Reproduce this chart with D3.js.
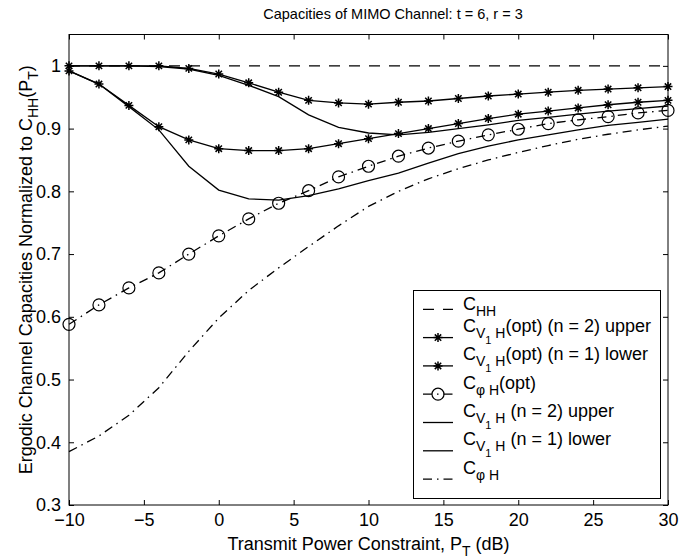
<!DOCTYPE html>
<html>
<head>
<meta charset="utf-8">
<script src="https://cdn.jsdelivr.net/npm/d3@7"></script>
<style>
    body { margin: 0; background: white; }
    text { font-family: 'Liberation Sans', Arial, Helvetica, sans-serif; fill: black; }
</style>
</head>
<body>
<div id="chart"></div>
<script>
// values, one point every 2 dB
let powerDb = [-10, -8, -6, -4, -2, 0, 2, 4, 6, 8, 10, 12, 14, 16, 18, 20, 22, 24, 26, 28, 30];
let cHH = [1, 1, 1, 1, 1, 1, 1, 1, 1, 1, 1, 1, 1, 1, 1, 1, 1, 1, 1, 1, 1];
let cV1HOptUpper = [1.000, 1.000, 1.000, 1.000, 0.996, 0.987, 0.973, 0.958, 0.945, 0.941, 0.939, 0.942, 0.944, 0.948, 0.952, 0.955, 0.958, 0.961, 0.963, 0.965, 0.967];
let cV1HOptLower = [0.992, 0.971, 0.937, 0.903, 0.882, 0.868, 0.865, 0.865, 0.868, 0.876, 0.884, 0.892, 0.900, 0.908, 0.916, 0.923, 0.928, 0.933, 0.938, 0.942, 0.945];
let cPhiHOpt = [0.588, 0.619, 0.646, 0.670, 0.700, 0.729, 0.756, 0.781, 0.801, 0.823, 0.840, 0.856, 0.869, 0.880, 0.890, 0.899, 0.908, 0.914, 0.919, 0.925, 0.929];
let cV1HUpper = [1.000, 1.000, 1.000, 0.999, 0.995, 0.985, 0.969, 0.951, 0.922, 0.902, 0.893, 0.890, 0.894, 0.900, 0.906, 0.913, 0.918, 0.923, 0.928, 0.932, 0.936];
let cV1HLower = [0.992, 0.971, 0.935, 0.898, 0.840, 0.802, 0.788, 0.786, 0.793, 0.804, 0.817, 0.829, 0.845, 0.860, 0.872, 0.882, 0.890, 0.898, 0.905, 0.910, 0.915];
let cPhiH = [0.385, 0.410, 0.443, 0.487, 0.545, 0.598, 0.642, 0.678, 0.712, 0.745, 0.776, 0.800, 0.820, 0.836, 0.850, 0.862, 0.873, 0.883, 0.891, 0.898, 0.904];

let xTicks = [-10, -5, 0, 5, 10, 15, 20, 25, 30];
let yTicks = [0.3, 0.4, 0.5, 0.6, 0.7, 0.8, 0.9, 1];

// legend labels as [text, level] pieces: 0 normal, 1 subscript, 2 sub-subscript
let vOneH = [['C', 0], ['V', 1], ['1', 2], [' H', 1]];
let legendLabels = [
    [['C', 0], ['HH', 1]],
    vOneH.concat([['(opt) (n = 2) upper', 0]]),
    vOneH.concat([['(opt) (n = 1) lower', 0]]),
    [['C', 0], ['\u03c6 H', 1], ['(opt)', 0]],
    vOneH.concat([[' (n = 2) upper', 0]]),
    vOneH.concat([[' (n = 1) lower', 0]]),
    [['C', 0], ['\u03c6 H', 1]]
];

let width = 696;
let height = 560;
let plot = { left: 69, right: 668, top: 34.5, bottom: 505 };

let series = [
    { values: cHH, dash: '11,9', marker: null },
    { values: cV1HOptUpper, dash: null, marker: 'star' },
    { values: cV1HOptLower, dash: null, marker: 'star' },
    { values: cPhiHOpt, dash: '9,5,1.5,5', marker: 'circle' },
    { values: cV1HUpper, dash: null, marker: null },
    { values: cV1HLower, dash: null, marker: null },
    { values: cPhiH, dash: '9,5,1.5,5', marker: null }
];

let svg = d3
    .select('#chart')
    .append('svg')
    .attr('width', width)
    .attr('height', height);

let xScale = d3
    .scaleLinear()
    .domain([-10, 30])
    .range([plot.left, plot.right]);

let yScale = d3
    .scaleLinear()
    .domain([0.3, 1.05])
    .range([plot.bottom, plot.top]);

let minus = d => d < 0 ? '\u2212' + Math.abs(d) : String(d);

// matlab style: ticks inside on all four sides
svg
    .append('g')
    .attr('transform', `translate(0,${plot.bottom})`)
    .call(d3.axisBottom(xScale).tickValues(xTicks).tickSize(-5).tickPadding(8).tickFormat(minus))
    .attr('class', 'xAxis');
svg
    .append('g')
    .attr('transform', `translate(0,${plot.top})`)
    .call(d3.axisTop(xScale).tickValues(xTicks).tickSize(-5).tickFormat(''));
svg
    .append('g')
    .attr('transform', `translate(${plot.left},0)`)
    .call(d3.axisLeft(yScale).tickValues(yTicks).tickSize(-5).tickPadding(8).tickFormat(d => d === 1 ? '1' : d.toFixed(1)))
    .attr('class', 'yAxis');
svg
    .append('g')
    .attr('transform', `translate(${plot.right},0)`)
    .call(d3.axisRight(yScale).tickValues(yTicks).tickSize(-5).tickFormat(''));

svg.selectAll('.domain').remove();
svg.selectAll('.tick line').attr('stroke', 'black').attr('stroke-width', 1);
svg.selectAll('.tick text').attr('font-size', 18).attr('font-family', "'Liberation Sans', Arial, sans-serif");

svg
    .append('rect')
    .attr('x', plot.left)
    .attr('y', plot.top)
    .attr('width', plot.right - plot.left)
    .attr('height', plot.bottom - plot.top)
    .attr('fill', 'none')
    .attr('stroke', 'black')
    .attr('stroke-width', 1);

let starPath = 'M-4.5,0H4.5M0,-4.5V4.5M-3.2,-3.2L3.2,3.2M-3.2,3.2L3.2,-3.2';

function drawMarker(g, kind, x, y) {
    if (kind === 'star') {
        g.append('path')
            .attr('d', starPath)
            .attr('transform', `translate(${x},${y})`)
            .attr('stroke', 'black')
            .attr('stroke-width', 1.5);
    } else if (kind === 'circle') {
        g.append('circle')
            .attr('cx', x)
            .attr('cy', y)
            .attr('r', 6)
            .attr('fill', 'none')
            .attr('stroke', 'black')
            .attr('stroke-width', 1.2);
    }
}

let line = d3
    .line()
    .x((d, i) => xScale(powerDb[i]))
    .y(d => yScale(d));

let marks = svg.append('g').attr('class', 'marks');

series.forEach(s => {
    marks
        .append('path')
        .attr('d', line(s.values))
        .attr('fill', 'none')
        .attr('stroke', 'black')
        .attr('stroke-width', 1.3)
        .attr('stroke-dasharray', s.dash);
    if (s.marker) {
        s.values.forEach((v, i) => drawMarker(marks, s.marker, xScale(powerDb[i]), yScale(v)));
    }
});

// text with subscripts built from tspans
let sizes = [18, 14, 11];
let shifts = [0, 6, 12];
function richText(sel, pieces) {
    let level = 0;
    pieces.forEach(p => {
        sel.append('tspan')
            .attr('font-size', sizes[p[1]])
            .attr('dy', shifts[p[1]] - shifts[level])
            .text(p[0]);
        level = p[1];
    });
}

// legend
let legend = svg.append('g').attr('class', 'legend');
legend
    .append('rect')
    .attr('x', 413.5)
    .attr('y', 290.5)
    .attr('width', 247)
    .attr('height', 208)
    .attr('fill', 'white')
    .attr('stroke', 'black')
    .attr('stroke-width', 1);

legendLabels.forEach((lab, i) => {
    let ly = 309.3 + i * 28.3;
    let s = series[i];
    legend
        .append('line')
        .attr('x1', 423)
        .attr('x2', 453)
        .attr('y1', ly)
        .attr('y2', ly)
        .attr('stroke', 'black')
        .attr('stroke-width', 1.3)
        .attr('stroke-dasharray', s.dash);
    if (s.marker) drawMarker(legend, s.marker, 438, ly);
    let t = legend
        .append('text')
        .attr('x', 463)
        .attr('y', i === 0 ? ly + 1 : ly - 5.5);
    richText(t, lab);
});

// title and axis labels
svg
    .append('text')
    .attr('x', 393)
    .attr('y', 19)
    .attr('text-anchor', 'middle')
    .attr('font-size', 14.5)
    .text('Capacities of MIMO Channel: t = 6, r = 3');

let xLabel = svg
    .append('text')
    .attr('x', (plot.left + plot.right) / 2)
    .attr('y', 550)
    .attr('text-anchor', 'middle');
richText(xLabel, [['Transmit Power Constraint, P', 0], ['T', 1], [' (dB)', 0]]);

let yLabel = svg
    .append('text')
    .attr('transform', `translate(32,${(plot.top + plot.bottom) / 2})rotate(-90)`)
    .attr('text-anchor', 'middle');
richText(yLabel, [['Ergodic Channel Capacities Normalized to C', 0], ['HH', 1], ['(P', 0], ['T', 1], [')', 0]]);
</script>
</body>
</html>
